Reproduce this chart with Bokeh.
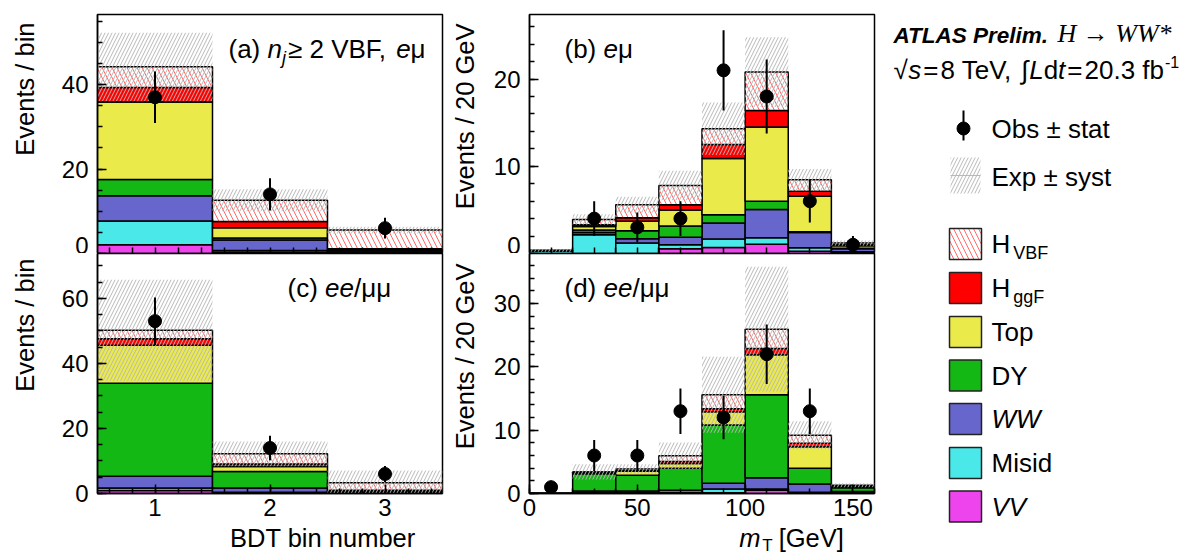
import numpy as np
from bokeh.plotting import figure
from bokeh.models import Range1d, SingleIntervalTicker, FixedTicker, Label
from bokeh.layouts import row, column
from bokeh.embed import file_html
from bokeh.resources import INLINE

FONT = "Liberation Sans"
K = 0.33  # baseline correction (fraction of font size)

# ---------------- data ----------------
stack_names = ["VV", "Misid", "WW", "DY", "Top", "H_ggF", "H_VBF"]  # bottom -> top
stack_colors = ["#ee44ee", "#4ae8e8", "#6666cc", "#14b814", "#eaea4a", "#ff0000", "#ffffff"]
legend_labels = ["H_VBF", "H_ggF", "Top", "DY", "WW", "Misid", "VV"]
legend_colors = ["#ffffff", "#ff0000", "#eaea4a", "#14b814", "#6666cc", "#4ae8e8", "#ee44ee"]

bdt_lo = [0.5, 1.5, 2.5]
bdt_hi = [1.5, 2.5, 3.5]
bdt_center = [1, 2, 3]
mt_lo = [0, 20, 40, 60, 80, 100, 120, 140]
mt_hi = [20, 40, 60, 80, 100, 120, 140, 160]
mt_center = [10, 30, 50, 70, 90, 110, 130, 150]

# (a) n_j >= 2 VBF, e-mu  (BDT bins)
a_VV = [2.1, 0.3, 0.1]
a_Misid = [5.6, 0.4, 0.1]
a_WW = [6.0, 2.5, 0.4]
a_DY = [3.8, 0.5, 0.1]
a_Top = [18.4, 2.4, 0.2]
a_ggF = [3.4, 1.5, 0.2]
a_VBF = [4.9, 5.0, 4.45]
a_syst = [8.1, 2.6, 0.8]
a_obs = [37, 14, 6]
a_err = [6.1, 3.8, 2.45]

# (b) e-mu  (mT)
b_VV = [0.0, 0.0, 0.0, 0.55, 0.7, 1.05, 0.25, 0.1]
b_Misid = [0.25, 2.15, 1.2, 0.45, 0.95, 0.75, 0.4, 0.1]
b_WW = [0.05, 0.25, 0.5, 0.85, 1.85, 3.25, 1.75, 0.35]
b_DY = [0.0, 0.3, 0.9, 1.3, 0.95, 0.95, 0.1, 0.05]
b_Top = [0.05, 0.4, 1.1, 1.85, 6.45, 8.5, 4.05, 0.3]
b_ggF = [0.0, 0.2, 0.4, 0.6, 1.6, 1.9, 0.6, 0.1]
b_VBF = [0.0, 0.6, 1.5, 2.2, 1.8, 4.4, 1.3, 0.2]
b_syst = [0.15, 0.6, 0.9, 1.7, 3.0, 4.0, 1.25, 0.3]
b_obs = [np.nan, 4, 3, 4, 21, 18, 6, 1]
b_err = [np.nan, 2.0, 1.7, 2.0, 4.6, 4.25, 2.45, 1.0]

# (c) ee/mumu  (BDT bins)
c_VV = [0.9, 0.2, 0.05]
c_Misid = [0.8, 0.2, 0.05]
c_WW = [3.6, 1.3, 0.3]
c_DY = [28.6, 5.1, 0.3]
c_Top = [11.7, 1.5, 0.2]
c_ggF = [2.0, 0.8, 0.1]
c_VBF = [2.6, 3.1, 2.3]
c_syst = [15.5, 3.8, 3.8]
c_obs = [53, 14, 6]
c_err = [7.3, 3.75, 2.45]

# (d) ee/mumu  (mT)
d_VV = [0.0, 0.0, 0.0, 0.0, 0.1, 0.5, 0.1, 0.05]
d_Misid = [0.0, 0.1, 0.1, 0.1, 0.6, 0.2, 0.1, 0.05]
d_WW = [0.0, 0.3, 0.3, 0.4, 0.9, 1.8, 1.3, 0.2]
d_DY = [0.0, 2.7, 2.5, 3.5, 9.2, 13.1, 2.5, 0.6]
d_Top = [0.0, 0.2, 0.6, 0.75, 2.1, 6.3, 3.4, 0.2]
d_ggF = [0.0, 0.05, 0.1, 0.3, 0.5, 1.0, 0.55, 0.05]
d_VBF = [0.0, 0.05, 0.25, 0.9, 2.2, 3.05, 1.25, 0.15]
d_syst = [0.0, 1.2, 0.75, 2.1, 6.0, 9.85, 2.2, 0.3]
d_obs = [1, 6, 6, 13, 12, 22, 13, np.nan]
d_err = [1.0, 2.45, 2.45, 3.6, 3.45, 4.7, 3.6, np.nan]

# ---------------- helpers ----------------
ARIAL = {' ': 278, '(': 333, ')': 333, 'a': 556, 'b': 556, 'c': 500, 'd': 556, 'e': 556,
         'n': 556, 'j': 222, 's': 500, 't': 278, 'f': 278, 'g': 556, 'm': 833, 'L': 556,
         'T': 611, 'V': 667, 'B': 667, 'F': 611, 'H': 722, 'G': 778, ',': 278, '.': 278,
         '/': 278, '=': 584, '-': 333, '0': 556, '1': 556, '2': 556, '3': 556, '8': 556,
         '\u2265': 549, '\u03bc': 576, '\u221a': 549, '\u222b': 274, '[': 278, ']': 278}


def tw(s, size):
    return sum(ARIAL.get(ch, 556) for ch in s) * size / 1000.0


def text(p, x, y, t, size, style="normal", align="left", font=FONT, units="data"):
    p.add_layout(Label(x=x, y=y + K * size, x_units=units, y_units=units, text=t,
                       text_font=font, text_font_size=f"{size}px", text_font_style=style,
                       text_align=align, text_baseline="alphabetic", text_color="black"))


def rich(p, x, y, pieces, units="screen"):
    for t, size, style, dy, gap in pieces:
        text(p, x, y + dy, t, size, style, units=units)
        x += tw(t, size) + gap


def style_axis(ax, label_size="24px", standoff=9):
    ax.major_tick_in = 9
    ax.major_tick_out = 0
    ax.minor_tick_in = 5
    ax.minor_tick_out = 0
    ax.major_tick_line_width = 1.5
    ax.minor_tick_line_width = 1.5
    ax.axis_line_width = 1.5
    ax.major_label_text_font = FONT
    ax.major_label_text_font_size = label_size
    ax.major_label_text_color = "black"
    ax.major_label_standoff = standoff


def make_fig(w, h, xr, yr, xticker, yticker, bl, bt, bb):
    p = figure(width=w, height=h, x_range=Range1d(*xr), y_range=Range1d(*yr),
               output_backend="svg", toolbar_location=None, title=None,
               min_border_left=bl, min_border_right=2, min_border_top=bt, min_border_bottom=bb)
    p.grid.visible = False
    p.outline_line_color = "black"
    p.outline_line_width = 1.5
    p.outline_line_alpha = 1.0
    p.background_fill_color = "white"
    p.border_fill_color = "white"
    p.xaxis[0].ticker = xticker
    p.yaxis[0].ticker = yticker
    style_axis(p.xaxis[0], standoff=5)
    style_axis(p.yaxis[0], standoff=9)
    return p


def draw_panel(p, lo, hi, ctr, comps, syst, obs, err):
    lo = np.array(lo, float)
    hi = np.array(hi, float)
    base = np.zeros(len(lo))
    for name, col, vals in zip(stack_names, stack_colors, comps):
        top = base + np.array(vals, float)
        kw = dict(left=lo, right=hi, bottom=base, top=top, fill_color=col,
                  line_color="black", line_width=1.5)
        if name == "H_VBF":
            kw.update(hatch_pattern="\\", hatch_color="#ff6a6a", hatch_scale=10, hatch_weight=1)
        p.quad(**kw)
        base = top
    s = np.array(syst, float)
    p.quad(left=lo, right=hi, bottom=base - s, top=base + s, fill_alpha=0, line_alpha=0,
           hatch_pattern="/", hatch_color="#b8b8b8", hatch_scale=7, hatch_weight=1)
    ctr = np.array(ctr, float)
    obs = np.array(obs, float)
    err = np.array(err, float)
    ok = ~np.isnan(obs)
    p.segment(x0=ctr[ok], y0=(obs - err)[ok], x1=ctr[ok], y1=(obs + err)[ok],
              line_color="black", line_width=2)
    p.scatter(ctr[ok], obs[ok], size=13, color="black")


def strip(w, h):
    s = figure(width=w, height=h, x_range=Range1d(0, w), y_range=Range1d(0, h),
               output_backend="svg", toolbar_location=None, title=None, min_border=0,
               x_axis_location=None, y_axis_location=None)
    s.grid.visible = False
    s.outline_line_color = None
    return s


def ytitle(s, x, y, t, size=25.5):
    # x: baseline position of the rotated text; y: top end of the text
    s.add_layout(Label(x=x - K * size, y=y, text=t, angle=np.pi / 2, text_font=FONT,
                       text_font_size=f"{size}px", text_align="right",
                       text_baseline="alphabetic", text_color="black"))


# ---------------- tickers ----------------
bdt_minor = [round(v, 1) for v in np.arange(0.6, 3.45, 0.2)]
mt_minor = list(range(10, 160, 10))
ta_x = FixedTicker(ticks=[], minor_ticks=bdt_minor)          # top panels: ticks only
tb_x = FixedTicker(ticks=[], minor_ticks=mt_minor)
tc_x = SingleIntervalTicker(interval=1, num_minor_ticks=5)
td_x = SingleIntervalTicker(interval=50, num_minor_ticks=5)
ta_y = SingleIntervalTicker(interval=20, num_minor_ticks=4)
tb_y = SingleIntervalTicker(interval=10, num_minor_ticks=5)
tc_y = SingleIntervalTicker(interval=20, num_minor_ticks=4)
td_y = SingleIntervalTicker(interval=10, num_minor_ticks=5)

# ---------------- panels ----------------
fa = make_fig(399, 253, (0.5, 3.5), (0, 56.6), ta_x, ta_y, 52, 14, 0)
fc = make_fig(399, 271, (0.5, 3.5), (0, 73.8), tc_x, tc_y, 52, 0, 31)
fb = make_fig(390, 253, (0, 160), (0, 27.4), tb_x, tb_y, 43, 14, 0)
fd = make_fig(390, 271, (0, 160), (0, 37.9), td_x, td_y, 43, 0, 31)
fa.xaxis[0].minor_tick_in = 6
fb.xaxis[0].minor_tick_in = 6

draw_panel(fa, bdt_lo, bdt_hi, bdt_center,
           [a_VV, a_Misid, a_WW, a_DY, a_Top, a_ggF, a_VBF], a_syst, a_obs, a_err)
draw_panel(fb, mt_lo, mt_hi, mt_center,
           [b_VV, b_Misid, b_WW, b_DY, b_Top, b_ggF, b_VBF], b_syst, b_obs, b_err)
draw_panel(fc, bdt_lo, bdt_hi, bdt_center,
           [c_VV, c_Misid, c_WW, c_DY, c_Top, c_ggF, c_VBF], c_syst, c_obs, c_err)
draw_panel(fd, mt_lo, mt_hi, mt_center,
           [d_VV, d_Misid, d_WW, d_DY, d_Top, d_ggF, d_VBF], d_syst, d_obs, d_err)

MU = "\u03bc"
rich(fa, 131, 196, [("(a) ", 26, "normal", 0, 0), ("n", 26, "italic", 0, 0),
                    ("j", 18, "italic", -6, 2), ("\u2265 2 VBF, ", 26, "normal", 0, 0),
                    ("e", 26, "italic", 0, 0), (MU, 26, "normal", 0, 0)])
rich(fb, 35, 196, [("(b) ", 26, "normal", 0, 0), ("e", 26, "italic", 0, 0),
                   (MU, 26, "normal", 0, 0)])
rich(fc, 190, 197, [("(c) ", 26, "normal", 0, 0), ("ee", 26, "italic", 0, 0),
                    ("/" + MU + MU, 26, "normal", 0, 0)])
rich(fd, 35, 197, [("(d) ", 26, "normal", 0, 0), ("ee", 26, "italic", 0, 0),
                   ("/" + MU + MU, 26, "normal", 0, 0)])

# axis-title strips
ys1 = strip(45, 553)
ytitle(ys1, 33, 531, "Events / bin")
ytitle(ys1, 33, 295, "Events / bin")
ys2 = strip(42, 553)
ytitle(ys2, 29, 530, "Events / 20 GeV")
ytitle(ys2, 29, 290, "Events / 20 GeV")

xs1 = strip(399, 29)
text(xs1, 368, 7, "BDT bin number", 25.5, align="right")
xs2 = strip(390, 29)
rich(xs2, 237, 7, [("m", 25.5, "italic", 0, 5), ("T", 17, "normal", -5, 8),
                   (" [GeV]", 25.5, "normal", 0, 0)], units="data")

# ---------------- legend / header panel ----------------
fl = strip(317, 553)
text(fl, 17, 511, "ATLAS Prelim.", 22.5, "bold italic")
text(fl, 181, 511, "H \u2192 WW*", 26, "italic", font="Liberation Serif")
rich(fl, 17, 475, [("\u221a", 26, "normal", 0, 0.5), ("s", 26, "italic", 0, 2),
                   ("=", 26, "normal", 0, 2), ("8 TeV,", 26, "normal", 0, 4),
                   ("\u222b", 26, "normal", 0, 1), ("L", 26, "italic", 0, 0),
                   ("d", 26, "normal", 0, 0), ("t", 26, "italic", 0, 2),
                   ("=", 26, "normal", 0, 2), ("20.3 fb", 26, "normal", 0, 1),
                   ("-1", 16, "normal", 11, 0)], units="data")

# Obs +- stat
fl.segment(x0=[87], y0=[413], x1=[87], y1=[443], line_color="black", line_width=2)
fl.scatter([87], [425], size=13, color="black")
text(fl, 115, 416, "Obs \u00b1 stat", 26)
# Exp +- syst
fl.quad(left=[74], right=[104], bottom=[360], top=[396], fill_alpha=0, line_alpha=0,
        hatch_pattern="/", hatch_color="#b8b8b8", hatch_scale=7, hatch_weight=1)
fl.segment(x0=[74], y0=[378], x1=[104], y1=[378], line_color="#b8b8b8", line_width=1)
text(fl, 115, 368, "Exp \u00b1 syst", 26)

box_cy = [309.5, 265.5, 221.5, 178, 134.5, 90.5, 47]
for lab, col, cy in zip(legend_labels, legend_colors, box_cy):
    kw = dict(left=[73], right=[105], bottom=[cy - 15.5], top=[cy + 15.5], fill_color=col,
              line_color="#222222", line_width=1.5)
    if lab == "H_VBF":
        kw.update(hatch_pattern="\\", hatch_color="#ff6a6a", hatch_scale=10, hatch_weight=1)
    fl.quad(**kw)
    if lab.startswith("H_"):
        rich(fl, 115, cy - 9, [("H", 26, "normal", 0, 3), (lab[2:], 18, "normal", -6, 0)],
             units="data")
    else:
        style = "italic" if lab in ("WW", "VV") else "normal"
        text(fl, 115, cy - 9, lab, 26, style)

layout = row(ys1, column(fa, fc, xs1), ys2, column(fb, fd, xs2), fl)
open("out.html", "w").write(file_html(layout, INLINE))
